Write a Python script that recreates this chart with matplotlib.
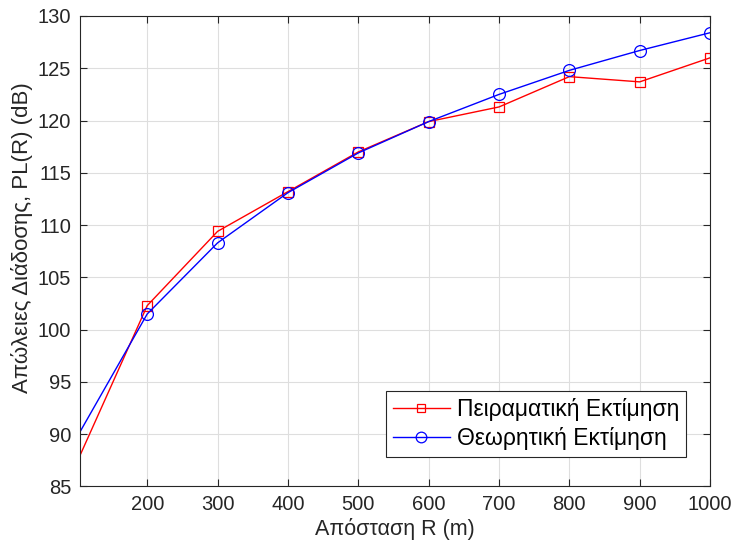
import matplotlib
matplotlib.use("Agg")
import matplotlib.pyplot as plt

# Distance samples (m) and path-loss values (dB)
distance = [100, 200, 300, 400, 500, 600, 700, 800, 900, 1000]
pl_measured = [87.3, 102.3, 109.4, 113.2, 117.0, 119.9, 121.3, 124.2, 123.7, 126.0]
pl_theory = [89.7, 101.5, 108.3, 113.1, 116.9, 119.9, 122.5, 124.8, 126.7, 128.4]

labels = ["Πειραματική Εκτίμηση", "Θεωρητική Εκτίμηση"]
x_ticks = [200, 300, 400, 500, 600, 700, 800, 900, 1000]
y_ticks = [85, 90, 95, 100, 105, 110, 115, 120, 125, 130]

plt.rcParams["font.family"] = ["Liberation Sans", "DejaVu Sans"]

fig = plt.figure(figsize=(7.33, 5.46), dpi=100)
ax = fig.add_axes([0.1087, 0.109, 0.86, 0.8617])

ax.plot(distance, pl_measured, color="#ff0000", lw=1.0, marker="s", ms=7,
        mfc="none", mec="#ff0000", mew=0.9, markevery=slice(1, None),
        label=labels[0])
ax.plot(distance, pl_theory, color="#0000ff", lw=1.0, marker="o", ms=8.5,
        mfc="none", mec="#0000ff", mew=0.9, markevery=slice(1, None),
        label=labels[1])

ax.set_xlim(104, 1000)
ax.set_ylim(85, 130)
ax.set_xticks(x_ticks)
ax.set_yticks(y_ticks)

ax.grid(True, color="#dedede", lw=0.8)
ax.set_axisbelow(True)
for s in ax.spines.values():
    s.set_color("#262626")
    s.set_linewidth(0.8)
ax.tick_params(direction="in", top=True, right=True, length=5, width=0.8,
               color="#262626", labelcolor="#262626", labelsize=14.5, pad=6)

ax.set_xlabel("Απόσταση R (m)", fontsize=15.5, color="#262626", labelpad=3)
ax.set_ylabel("Απώλειες Διάδοσης, PL(R) (dB)", fontsize=16, color="#262626")
ax.yaxis.set_label_coords(-0.074, 0.529)

leg = ax.legend(loc="lower right", bbox_to_anchor=(0.962, 0.063), fontsize=16.5,
                frameon=True, fancybox=False, framealpha=1, edgecolor="#262626",
                handlelength=2.5, borderpad=0.3, labelspacing=0.25, handletextpad=0.3,
                borderaxespad=0, markerscale=0.9, labelcolor="black")
leg.get_frame().set_linewidth(0.8)

fig.savefig("out.png", dpi=100)
